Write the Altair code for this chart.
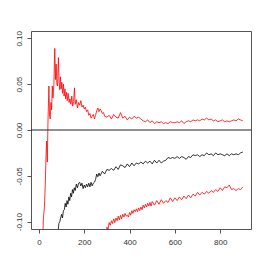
import altair as alt
import pandas as pd

# Upper red series
x_upper = [15, 20, 24, 28, 31, 34, 37, 40, 44, 47, 50, 53, 56, 59, 62, 66, 70, 73, 76, 79,
           82, 86, 89, 92, 95, 98, 101, 104, 108, 111, 115, 118, 122, 125, 129, 133, 137, 141, 145, 149,
           153, 157, 160, 165, 170, 175, 180, 185, 190, 195, 200, 205, 210, 215, 220, 225, 230, 235, 240, 245,
           250, 255, 260, 265, 270, 275, 280, 285, 290, 300, 310, 320, 330, 340, 350, 360, 370, 380, 390, 400,
           410, 420, 430, 440, 450, 460, 470, 480, 490, 500, 510, 520, 530, 540, 550, 560, 570, 580, 590, 600,
           610, 620, 630, 640, 650, 660, 670, 680, 690, 700, 710, 720, 730, 740, 750, 760, 770, 780, 790, 800,
           810, 820, 830, 840, 850, 860, 870, 880, 890, 900]
y_upper = [-0.13, -0.095, -0.085, -0.06, -0.03, -0.012, -0.035, 0.010, 0.048, 0.015, 0.012, 0.030, 0.022, 0.048, 0.035, 0.050, 0.089, 0.055, 0.072, 0.050,
           0.048, 0.079, 0.052, 0.044, 0.058, 0.045, 0.052, 0.040, 0.050, 0.037, 0.045, 0.034, 0.041, 0.032, 0.040, 0.030, 0.034, 0.028, 0.037, 0.026,
           0.031, 0.046, 0.028, 0.033, 0.024, 0.030, 0.027, 0.032, 0.025, 0.027, 0.023, 0.025, 0.020, 0.022, 0.016, 0.018, 0.013, 0.015, 0.017, 0.012,
           0.016, 0.021, 0.024, 0.020, 0.023, 0.021, 0.018, 0.019, 0.015, 0.014, 0.016, 0.012, 0.017, 0.014, 0.013, 0.019, 0.013, 0.015, 0.011, 0.014,
           0.012, 0.015, 0.013, 0.014, 0.012, 0.010, 0.009, 0.011, 0.008, 0.010, 0.007, 0.009, 0.008, 0.009, 0.007, 0.008, 0.007, 0.009, 0.008, 0.008,
           0.009, 0.008, 0.010, 0.007, 0.009, 0.010, 0.009, 0.011, 0.010, 0.011, 0.010, 0.012, 0.011, 0.013, 0.011, 0.012, 0.010, 0.011, 0.009, 0.010,
           0.011, 0.009, 0.010, 0.009, 0.010, 0.011, 0.010, 0.012, 0.011, 0.010]

# Middle black series
x_mid = [84, 88, 92, 96, 100, 104, 108, 112, 116, 120, 124, 128, 132, 136, 140, 144, 148, 152, 156, 160,
         165, 170, 175, 180, 185, 190, 195, 200, 205, 210, 215, 220, 225, 230, 235, 240, 245, 250, 255, 260,
         265, 270, 280, 290, 300, 310, 320, 330, 340, 350, 360, 370, 380, 390, 400, 410, 420, 430, 440, 450,
         460, 470, 480, 490, 500, 510, 520, 530, 540, 550, 560, 570, 580, 590, 600, 610, 620, 630, 640, 650,
         660, 670, 680, 690, 700, 710, 720, 730, 740, 750, 760, 770, 780, 790, 800, 810, 820, 830, 840, 850,
         860, 870, 880, 890, 900]
y_mid = [-0.112, -0.102, -0.100, -0.096, -0.092, -0.096, -0.088, -0.087, -0.080, -0.084, -0.077, -0.081, -0.073, -0.077, -0.069, -0.073, -0.065, -0.069, -0.063, -0.066,
         -0.059, -0.063, -0.058, -0.057, -0.061, -0.058, -0.064, -0.060, -0.063, -0.059, -0.062, -0.058, -0.062, -0.057, -0.061, -0.058, -0.057, -0.054, -0.048, -0.051,
         -0.047, -0.050, -0.045, -0.048, -0.043, -0.044, -0.042, -0.044, -0.040, -0.043, -0.038, -0.039, -0.041, -0.037, -0.040, -0.036, -0.039, -0.036, -0.037, -0.035,
         -0.037, -0.034, -0.036, -0.034, -0.037, -0.033, -0.036, -0.033, -0.036, -0.034, -0.033, -0.030, -0.031, -0.030, -0.031, -0.029, -0.031, -0.029, -0.030, -0.032,
         -0.029, -0.030, -0.027, -0.028, -0.027, -0.029, -0.027, -0.028, -0.025, -0.027, -0.026, -0.028, -0.025, -0.027, -0.026, -0.027, -0.028, -0.026, -0.028, -0.026,
         -0.027, -0.026, -0.027, -0.025, -0.024]

# Lower red series
x_lower = [296, 300, 305, 310, 315, 320, 325, 330, 335, 340, 345, 350, 355, 360, 365, 370, 375, 380, 385, 390,
           395, 400, 405, 410, 415, 420, 425, 430, 435, 440, 445, 450, 455, 460, 465, 470, 475, 480, 485, 490,
           495, 500, 510, 520, 530, 540, 550, 560, 570, 580, 590, 600, 610, 620, 630, 640, 650, 660, 670, 680,
           690, 700, 710, 720, 730, 740, 750, 760, 770, 780, 790, 800, 810, 820, 830, 840, 850, 860, 870, 880,
           890, 900]
y_lower = [-0.112, -0.106, -0.108, -0.101, -0.104, -0.099, -0.102, -0.097, -0.101, -0.096, -0.099, -0.094, -0.098, -0.093, -0.097, -0.092, -0.095, -0.091, -0.094, -0.093,
           -0.095, -0.090, -0.093, -0.088, -0.091, -0.087, -0.089, -0.086, -0.089, -0.085, -0.088, -0.084, -0.087, -0.082, -0.085, -0.081, -0.084, -0.080, -0.083, -0.079,
           -0.083, -0.078, -0.082, -0.077, -0.081, -0.076, -0.080, -0.077, -0.079, -0.074, -0.078, -0.074, -0.077, -0.073, -0.076, -0.072, -0.075, -0.071, -0.074, -0.070,
           -0.072, -0.068, -0.071, -0.068, -0.070, -0.067, -0.069, -0.066, -0.068, -0.065, -0.067, -0.063, -0.066, -0.062, -0.063, -0.060, -0.065, -0.064, -0.066, -0.064,
           -0.065, -0.062]

x_ticks = [0, 200, 400, 600, 800]
y_ticks = [-0.10, -0.05, 0.00, 0.05, 0.10]

rows = []
for name, xs, ys in [("upper", x_upper, y_upper), ("mid", x_mid, y_mid), ("lower", x_lower, y_lower)]:
    for a, b in zip(xs, ys):
        rows.append({"x": a, "y": b, "series": name})
df = pd.DataFrame(rows)

xscale = alt.Scale(domain=[-35, 936], nice=False, zero=False)
yscale = alt.Scale(domain=[-0.108, 0.108], nice=False, zero=False)

font = "Liberation Sans"

xaxis = alt.Axis(values=x_ticks, title=None, grid=False, domain=False, tickSize=4,
                 tickColor="#555", labelFontSize=8, labelFont=font, labelColor="#333",
                 labelPadding=5, format="d")
yaxis = alt.Axis(values=y_ticks, title=None, grid=False, domain=False, tickSize=4,
                 tickColor="#555", labelFontSize=8, labelFont=font, labelColor="#333",
                 labelAngle=270, labelAlign="center", labelBaseline="bottom", labelPadding=4,
                 labelExpr="(datum.value < -0.0001 ? '-' : '') + format(abs(datum.value), '.2f')")

lines = alt.Chart(df).mark_line(strokeWidth=0.8, clip=True).encode(
    x=alt.X("x:Q", scale=xscale, axis=xaxis),
    y=alt.Y("y:Q", scale=yscale, axis=yaxis),
    color=alt.Color("series:N", scale=alt.Scale(domain=["upper", "mid", "lower"],
                                                range=["#ff0000", "#000000", "#ff0000"]), legend=None),
    detail="series:N",
)

zero = alt.Chart(pd.DataFrame({"y": [0.0]})).mark_rule(color="#222", strokeWidth=1).encode(
    y=alt.Y("y:Q", scale=yscale)
)

chart = alt.layer(lines, zero).properties(
    width=220, height=198,
    autosize=alt.AutoSizeParams(type="none"),
    padding={"left": 23, "top": 23, "right": 8, "bottom": 30},
).configure_view(stroke="#555", strokeWidth=1)

chart.save("out.html", embed_options={"renderer": "svg", "actions": False})
